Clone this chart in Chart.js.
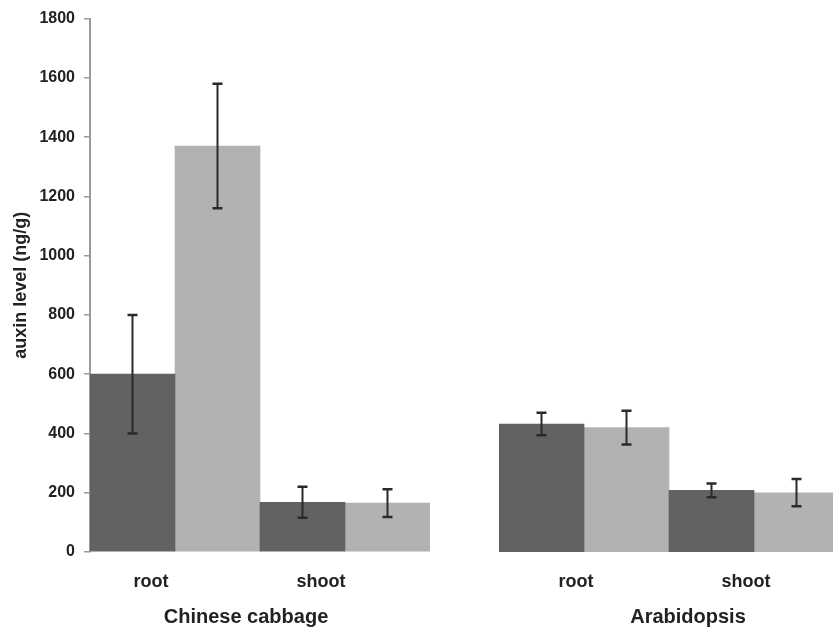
<!DOCTYPE html>
<html>
<head>
<meta charset="utf-8">
<title>auxin level</title>
<script src="https://cdn.jsdelivr.net/npm/chart.js@4.4.1/dist/chart.umd.min.js"></script>
<style>
    html, body { margin: 0; padding: 0; width: 833px; height: 630px; overflow: hidden; background: #fff; }
    .panel { position: absolute; top: 0; height: 630px; }
    #leftPanel { left: 0; width: 430px; }
    #rightPanel { left: 499px; width: 340px; }
</style>
</head>
<body>
<div class="panel" id="leftPanel"><canvas id="cabbageChart"></canvas></div>
<div class="panel" id="rightPanel"><canvas id="arabidopsisChart"></canvas></div>
<script>
// 數據
const tissues = ['root', 'shoot'];
const speciesNames = ['Chinese cabbage', 'Arabidopsis'];
const yTickValues = [0, 200, 400, 600, 800, 1000, 1200, 1400, 1600, 1800];

const cabbageDark = [600, 168];
const cabbageDarkErr = [200, 52];
const cabbageLight = [1370, 165];
const cabbageLightErr = [210, 47];

const arabidopsisDark = [432, 208];
const arabidopsisDarkErr = [38, 23];
const arabidopsisLight = [420, 200];
const arabidopsisLightErr = [57, 46];

const DARK = '#616264';
const LIGHT = '#b1b2b4';
const FONT = "'Liberation Sans', Arial, sans-serif";

// 誤差線
const errorBarPlugin = {
    id: 'errorBars',
    afterDatasetsDraw(chart) {
        const ctx = chart.ctx;
        const yScale = chart.scales.y;
        chart.data.datasets.forEach((ds, i) => {
            const meta = chart.getDatasetMeta(i);
            meta.data.forEach((bar, j) => {
                const v = ds.data[j], e = ds.errors[j];
                const top = yScale.getPixelForValue(v + e);
                const bottom = yScale.getPixelForValue(v - e);
                ctx.save();
                ctx.strokeStyle = '#2a2a2a';
                ctx.lineWidth = 2;
                ctx.beginPath();
                ctx.moveTo(bar.x, top);
                ctx.lineTo(bar.x, bottom);
                ctx.stroke();
                ctx.lineWidth = 2.5;
                ctx.beginPath();
                ctx.moveTo(bar.x - 5, top);
                ctx.lineTo(bar.x + 5, top);
                ctx.moveTo(bar.x - 5, bottom);
                ctx.lineTo(bar.x + 5, bottom);
                ctx.stroke();
                ctx.restore();
            });
        });
    }
};

// 物種名稱 (在 x 軸下方)
const groupTitlePlugin = {
    id: 'groupTitle',
    afterDraw(chart, args, opts) {
        const ctx = chart.ctx;
        const area = chart.chartArea;
        ctx.save();
        ctx.font = 'bold 20px ' + FONT;
        ctx.fillStyle = '#222';
        ctx.textAlign = 'center';
        ctx.textBaseline = 'middle';
        ctx.fillText(opts.text, (area.left + area.right) / 2 + opts.dx, 617);
        ctx.restore();
    }
};

function makeChart(canvasId, dark, darkErr, light, lightErr, showY, title, titleDx, labelOffset) {
    return new Chart(document.getElementById(canvasId), {
        type: 'bar',
        data: {
            labels: tissues,
            datasets: [
                { data: dark, errors: darkErr, backgroundColor: DARK, barPercentage: 1, categoryPercentage: 1 },
                { data: light, errors: lightErr, backgroundColor: LIGHT, barPercentage: 1, categoryPercentage: 1 }
            ]
        },
        options: {
            responsive: true,
            maintainAspectRatio: false,
            animation: false,
            layout: { padding: { top: 14, right: 0, bottom: 0, left: 0 } },
            plugins: {
                legend: { display: false },
                tooltip: { enabled: false },
                groupTitle: { text: title, dx: titleDx }
            },
            scales: {
                x: {
                    grid: { display: false, drawTicks: false },
                    border: { display: false },
                    ticks: {
                        color: '#222',
                        font: { family: FONT, size: 18, weight: 'bold' },
                        padding: 19,
                        labelOffset: labelOffset
                    },
                    afterFit(scale) { scale.height = 78; }
                },
                y: {
                    min: 0,
                    max: 1800,
                    afterBuildTicks(scale) { scale.ticks = yTickValues.map(v => ({ value: v })); },
                    afterFit(scale) { scale.width = showY ? 90 : 0; },
                    grid: {
                        display: showY,
                        drawOnChartArea: false,
                        drawTicks: true,
                        tickLength: 6,
                        color: '#9a9a9a',
                        lineWidth: 1.5
                    },
                    border: { display: showY, color: '#9a9a9a', width: 2 },
                    ticks: {
                        color: showY ? '#222' : 'rgba(0,0,0,0)',
                        font: { family: FONT, size: 16, weight: 'bold' },
                        padding: 9,
                        callback: v => String(v)
                    },
                    title: {
                        display: showY,
                        text: 'auxin level (ng/g)',
                        color: '#222',
                        font: { family: FONT, size: 18, weight: 'bold' },
                        padding: { top: 10, bottom: 0 }
                    }
                }
            }
        },
        plugins: [errorBarPlugin, groupTitlePlugin]
    });
}

makeChart('cabbageChart', cabbageDark, cabbageDarkErr, cabbageLight, cabbageLightErr, true, speciesNames[0], -14, -24);
makeChart('arabidopsisChart', arabidopsisDark, arabidopsisDarkErr, arabidopsisLight, arabidopsisLightErr, false, speciesNames[1], 19, -8);
</script>
</body>
</html>
